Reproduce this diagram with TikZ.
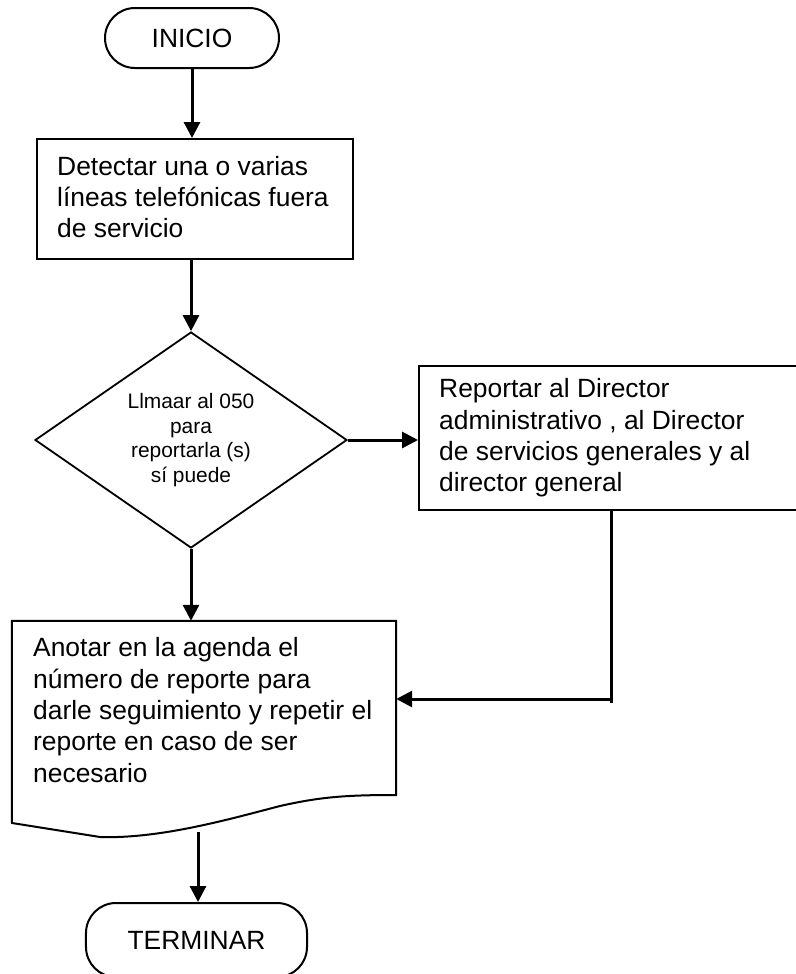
\documentclass[tikz,border=0pt]{standalone}
\usepackage{fontspec}
\setmainfont{Liberation Sans}
\usetikzlibrary{shapes.geometric,arrows.meta}
\begin{document}
\begin{tikzpicture}[x=1bp,y=-1bp,
  shapebox/.style={draw,line width=2bp,rectangle,inner sep=0pt},
  bigtxt/.style={align=left,inner sep=0pt,font=\fontsize{26.5}{31.5}\selectfont},
  term/.style={draw,line width=2bp,rectangle,rounded corners=30bp,inner sep=0pt,font=\fontsize{26.5}{31.5}\selectfont},
  decision/.style={draw,line width=1.8bp,diamond,aspect=1.444,inner sep=0pt,align=center,font=\fontsize{21}{24.5}\selectfont},
  conn/.style={line width=3bp},
  arr/.style={line width=3bp,-{Triangle[length=16bp,width=16bp]}}]
\useasboundingbox (0,0) rectangle (796,974);
\clip (0,0) rectangle (796,974);
\fill[white] (0,0) rectangle (796,974);

% start
\node[term,minimum width=174bp,minimum height=60bp] (inicio) at (192,38) {INICIO};

% detect
\node[shapebox,minimum width=316bp,minimum height=120bp] (detect) at (195,199) {};
\node[bigtxt,anchor=west] (detecttxt) at ([xshift=21bp,yshift=2bp]detect.west)
  {Detectar una o varias\\líneas telefónicas fuera\\de servicio};

% decision
\node[decision,minimum width=312bp,minimum height=216bp] (dia) at (191,440)
  {Llmaar al 050\\para\\reportarla (s)\\sí puede};

% report box (extends past the right edge)
\node[shapebox,minimum width=391bp,minimum height=144bp] (reportar) at (614.5,438) {};
\node[bigtxt,anchor=west] (reportartxt) at ([xshift=21bp]reportar.west)
  {Reportar al Director\\administrativo , al Director\\de servicios generales y al\\director general};

% document shape
\node[inner sep=0pt,minimum width=384bp,minimum height=202bp] (anotar) at (204,722) {};
\draw[line width=2bp]
  (anotar.north west) -- (anotar.north east) -- (396,795)
  .. controls (345,795) and (320,797) .. (280,806)
  .. controls (230,819) and (160,839) .. (100,837)
  -- (12,823) -- cycle;
\node[bigtxt,anchor=west] (anotartxt) at (33,710)
  {Anotar en la agenda el\\número de reporte para\\darle seguimiento y repetir el\\reporte en caso de ser\\necesario};

% end
\node[term,minimum width=221bp,minimum height=74bp] (terminar) at (196.5,940) {TERMINAR};

% connectors
\draw[arr] (inicio.south) -- (inicio.south |- detect.north);
\draw[arr] (detect.south -| dia.north) -- (dia.north);
\draw[arr] (dia.east) -- (dia.east -| reportar.west);
\draw[arr] (dia.south) -- (dia.south |- anotar.north);
\coordinate (rb) at (611,699);
\draw[conn] (reportar.south -| rb) -- ([yshift=-4bp]rb);
\draw[arr] (rb) -- (rb -| anotar.east);
\coordinate (db) at (198,832);
\draw[arr] (db) -- (db |- terminar.north);
\end{tikzpicture}
\end{document}
